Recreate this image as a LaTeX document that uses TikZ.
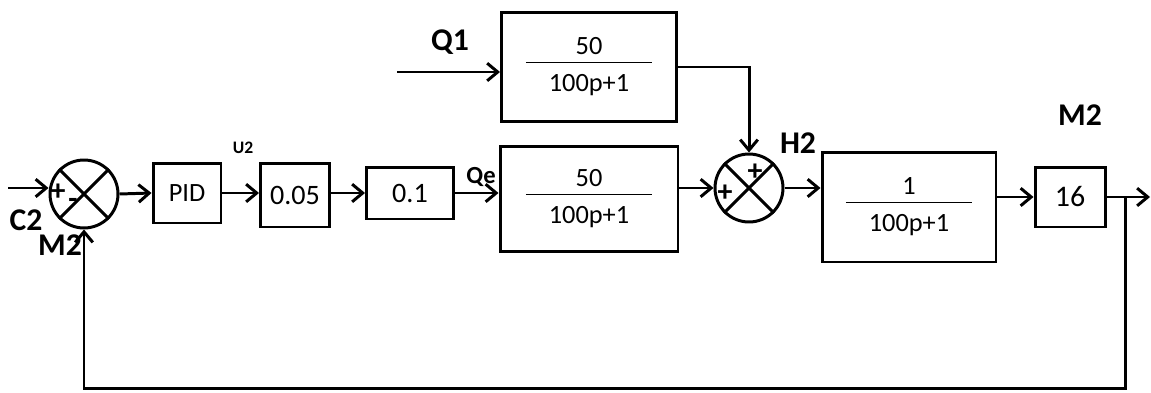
\documentclass[tikz,border=0pt]{standalone}
\usepackage{fontspec}
\setmainfont{Carlito}
\usetikzlibrary{arrows.meta, positioning, calc}

\newcommand{\blkfrac}[2]{{\arrayrulewidth=0.8pt\begin{tabular}{@{\hspace{13pt}}c@{\hspace{13pt}}}#1\\[-1pt]\hline\rule{0pt}{16pt}#2\end{tabular}}}

\begin{document}
\begin{tikzpicture}[x=0.02cm, y=-0.02cm, line width=1.7pt,
  >={Straight Barb[length=6pt,width=10pt]},
  blk/.style={draw, inner sep=0pt, font=\fontsize{15}{17}\selectfont},
  summ/.style={draw, circle, minimum size=1.36cm, inner sep=0pt},
  lbl/.style={font=\fontsize{18}{20}\selectfont\bfseries, inner sep=0pt},
  sgn/.style={font=\fontsize{17}{17}\selectfont\bfseries, inner sep=0pt}]
\useasboundingbox (0,0) rectangle (1151,392);

% summing junction C2 / M2
\node[summ] (s1) at (84,194) {};
\draw (s1.north west) -- (s1.south east) (s1.north east) -- (s1.south west);
\node[sgn] at (58,192) {+};
\node[sgn] at (73,203) {-};
\coordinate (c2in) at (8,188);
\draw[->] (c2in) -- (c2in -| s1.west);
\node[lbl] (c2) at (26,220) {C2};
\node[lbl] (m2a) at (60,245) {M2};

% forward path
\node[blk, minimum width=1.36cm, minimum height=1.2cm] (pid) at (187,193) {PID};
\node[blk, minimum width=1.38cm, minimum height=1.28cm, font=\fontsize{16}{18}\selectfont] (k1) at (295,195) {0.05};
\node[blk, minimum width=1.74cm, minimum height=1.04cm, font=\fontsize{16}{18}\selectfont] (k2) at (410,193) {0.1};
\node[blk, minimum width=3.56cm, minimum height=2.1cm] (g1) at (589,199) {\blkfrac{50}{100p+1}};
\node[lbl, font=\fontsize{10}{12}\selectfont\bfseries] (u2) at (243,148) {U2};
\node[lbl, font=\fontsize{14}{16}\selectfont\bfseries] (qe) at (481,177) {Qe};
\draw[->] (s1.east) -- (pid.west);
\draw[->] (pid.east) -- (pid.east -| k1.west);
\draw[->] (k1.east |- k2) -- (k2.west);
\draw[->] (k2.east) -- (k2.east -| g1.west);

% disturbance Q1
\node[blk, minimum width=3.5cm, minimum height=2.18cm] (g2) at (589,67) {\blkfrac{50}{100p+1}};
\coordinate (q1in) at (397,72);
\node[lbl] (q1) at (450,42) {Q1};
\draw[->] (q1in) -- (q1in -| g2.west);

% summing junction H2
\node[summ] (s2) at (749,188) {};
\draw (s2.north west) -- (s2.south east) (s2.north east) -- (s2.south west);
\node[sgn] at (725,193) {+};
\node[sgn] at (755,172) {+};
\node[lbl] (h2) at (798,143) {H2};
\draw[->] (g1.east |- s2.west) -- (s2.west);
\draw[->] (g2.east) -| (s2.north);

% plant and sensor
\node[blk, minimum width=3.48cm, minimum height=2.2cm] (g3) at (909,207) {\blkfrac{1}{100p+1}};
\node[blk, minimum width=1.4cm, minimum height=1.2cm, font=\fontsize{17}{19}\selectfont] (k3) at (1070,197) {16};
\node[lbl] (m2b) at (1080,115) {M2};
\draw[->] (s2.east) -- (s2.east -| g3.west);
\draw[->] (g3.east |- k3) -- (k3.west);
\coordinate (out) at (1150,197);
\coordinate (brn) at (1125,197);
\draw[->] (k3.east) -- (out);

% feedback
\coordinate (fb) at (1125,388);
\draw[->] (brn) -- (fb) -| (s1.south);
\end{tikzpicture}
\end{document}
